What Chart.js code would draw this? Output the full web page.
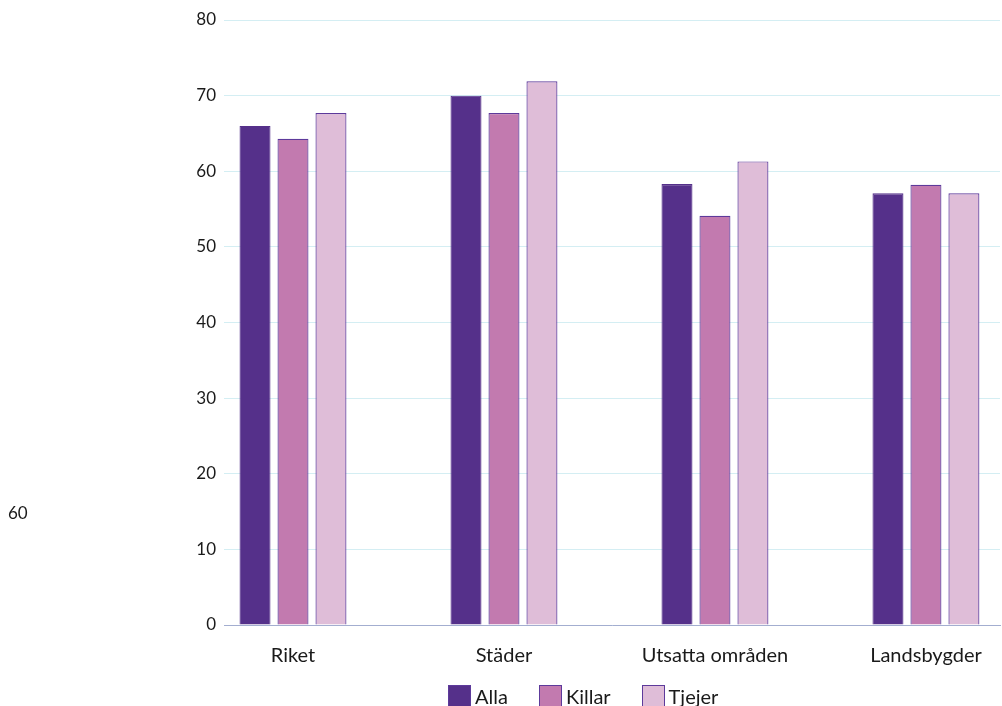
<!DOCTYPE html>
<html lang="sv">
<head>
<meta charset="utf-8">
<title>Andel per område</title>
<script src="https://cdn.jsdelivr.net/npm/chart.js@4"></script>
<style>
  html, body { margin: 0; padding: 0; background: #fff; }
  body { width: 1002px; height: 706px; position: relative; overflow: hidden; font-family: Lato, sans-serif; color: #1a1a1a; }
  #chart { position: absolute; left: 0; top: 0; }
  .stray { position: absolute; left: 8px; top: 502px; font-size: 17px; }
  .legend { position: absolute; top: 685px; left: 448px; display: flex; font-size: 20px; line-height: 22px; }
  .legend span.item { display: flex; align-items: flex-start; margin-right: 31px; }
  .legend span.box { width: 21px; height: 21px; border: 1px solid #5d3a9b; margin-right: 4px; }
</style>
</head>
<body>
<canvas id="chart" width="1002" height="706"></canvas>
<div class="stray">60</div>
<div class="legend" id="legend"></div>
<script>
// Data
const categories = ['Riket', 'Städer', 'Utsatta områden', 'Landsbygder'];
const seriesNames = ['Alla', 'Killar', 'Tjejer'];
const alla = [66, 70, 58.3, 57.1];
const killar = [64.3, 67.7, 54.1, 58.2];
const tjejer = [67.7, 71.9, 61.3, 57.1];
const yTicks = [0, 10, 20, 30, 40, 50, 60, 70, 80];

const seriesValues = [alla, killar, tjejer];
const fills = ['#55308a', '#c27aaf', '#dfbdd8'];
const borders = ['#55308a', '#5d3a9b', '#5d3a9b'];

document.addEventListener('DOMContentLoaded', function() {
  // Legend in HTML, so the spacing can match
  const legend = document.getElementById('legend');
  seriesNames.forEach((name, i) => {
    const item = document.createElement('span');
    item.className = 'item';
    item.innerHTML = `<span class="box" style="background:${fills[i]}"></span><span>${name}</span>`;
    legend.appendChild(item);
  });

  const datasets = seriesNames.map((name, i) => ({
    label: name,
    data: seriesValues[i].map((v, j) => ({ x: j, y: v })),
    backgroundColor: fills[i],
    borderColor: borders[i],
    borderWidth: 1.2,
    categoryPercentage: 0.54,
    barPercentage: 0.816
  }));

  // x is linear so the first group can sit close to the y axis
  // and the last one runs off the right edge, like in the original
  new Chart(document.getElementById('chart'), {
    type: 'bar',
    data: { datasets: datasets },
    options: {
      responsive: false,
      animation: false,
      layout: { padding: { top: 20, left: 0, right: 2, bottom: 0 } },
      plugins: { legend: { display: false }, tooltip: { enabled: false } },
      scales: {
        x: {
          type: 'linear',
          offset: false,
          min: -0.327,
          max: 3.351,
          grid: { display: false, offset: false },
          border: { display: true, color: '#a3aed0', width: 1 },
          afterBuildTicks: function(scale) {
            // only whole positions carry a category
            scale.ticks = scale.ticks.filter(t => Number.isInteger(t.value));
          },
          afterFit: function(scale) { scale.height = 81; },
          ticks: {
            stepSize: 1,
            includeBounds: false,
            autoSkip: false,
            maxRotation: 0,
            padding: 11,
            color: '#1a1a1a',
            font: { family: 'Lato', size: 20 },
            callback: function(value) { return categories[value] || ''; }
          }
        },
        y: {
          min: 0,
          max: 80,
          afterBuildTicks: function(scale) {
            scale.ticks = yTicks.map(v => ({ value: v }));
          },
          afterFit: function(scale) { scale.width = 224; },
          grid: { color: '#d4eef3', drawTicks: false },
          border: { display: false },
          ticks: {
            padding: 8,
            color: '#1a1a1a',
            font: { family: 'Lato', size: 17 }
          }
        }
      }
    }
  });
});
</script>
</body>
</html>
